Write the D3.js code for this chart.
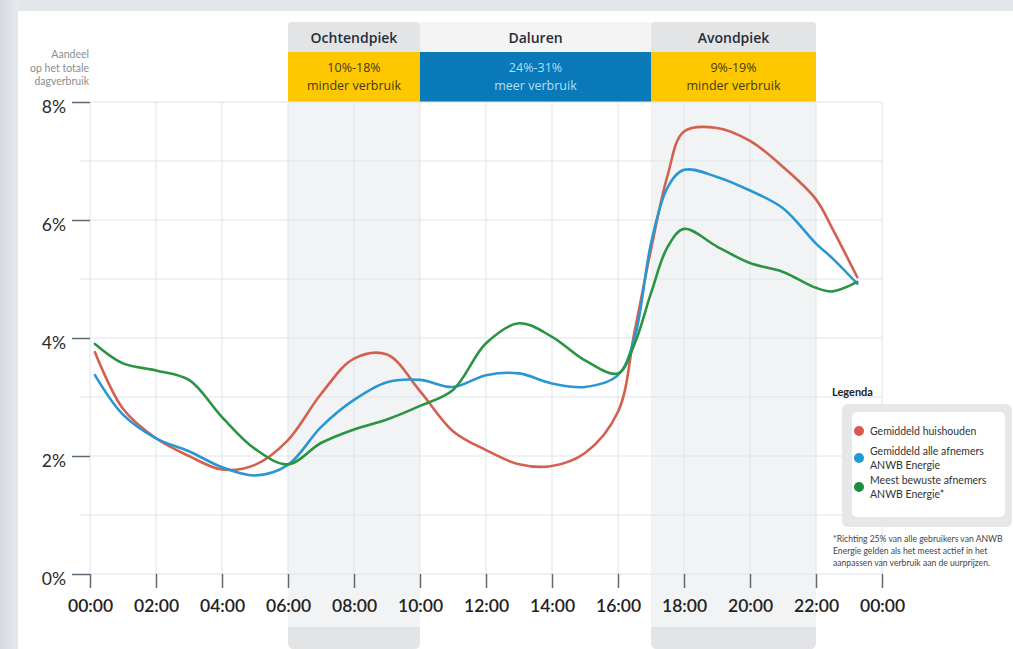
<!DOCTYPE html>
<html>
<head>
<meta charset="utf-8">
<script src="https://cdn.jsdelivr.net/npm/d3@7"></script>
<style>
  html, body { margin: 0; padding: 0; background: #e3e6ea; }
  svg { display: block; }
</style>
</head>
<body>
<svg id="chart" width="1013" height="649"></svg>
<script>
// Share of total daily consumption (%) per time of day
const hours      = [0.15, 1, 2, 3, 4, 5, 6, 7, 8, 9, 10, 11, 12, 13, 14, 15, 16, 16.5, 17, 17.5, 18, 19, 20, 21, 22, 22.5, 23.25];
const household  = [3.76, 2.8, 2.3, 2.0, 1.77, 1.85, 2.27, 3.05, 3.65, 3.72, 3.1, 2.42, 2.1, 1.86, 1.83, 2.05, 2.75, 4.1, 5.5, 6.75, 7.5, 7.56, 7.34, 6.9, 6.35, 5.85, 5.03];
const allCustomers = [3.37, 2.7, 2.3, 2.08, 1.81, 1.67, 1.85, 2.49, 2.95, 3.25, 3.29, 3.17, 3.37, 3.4, 3.23, 3.17, 3.37, 4.0, 5.6, 6.55, 6.85, 6.73, 6.5, 6.2, 5.6, 5.35, 4.92];
const mostAware  = [3.9, 3.57, 3.45, 3.29, 2.66, 2.12, 1.86, 2.22, 2.45, 2.62, 2.85, 3.12, 3.91, 4.25, 4.02, 3.62, 3.4, 3.9, 4.76, 5.54, 5.85, 5.55, 5.27, 5.12, 4.85, 4.79, 4.95];

const seriesNames  = ["Gemiddeld huishouden", "Gemiddeld alle afnemers\nANWB Energie", "Meest bewuste afnemers\nANWB Energie*"];
const seriesColors = ["#d4604f", "#2a97d2", "#2a9442"];
const legendDots   = ["#d9574c", "#1f9bd8", "#1d8e3b"];

// Tariff periods
const periodNames  = ["Ochtendpiek", "Daluren", "Avondpiek"];
const periodStart  = [6, 10, 17];
const periodEnd    = [10, 17, 22];
const periodRange  = ["10%-18%", "24%-31%", "9%-19%"];
const periodNote   = ["minder verbruik", "meer verbruik", "minder verbruik"];
const periodIsPeak = [true, false, true];

const xTicks = [0, 2, 4, 6, 8, 10, 12, 14, 16, 18, 20, 22, 24];
const xTickLabels = ["00:00","02:00","04:00","06:00","08:00","10:00","12:00","14:00","16:00","18:00","20:00","22:00","00:00"];
const yTicks = [0, 2, 4, 6, 8];
const yGrid  = [1, 2, 3, 4, 5, 6, 7, 8];

const footnote = ["*Richting 25% van alle gebruikers van ANWB", "Energie gelden als het meest actief in het", "aanpassen van verbruik aan de uurprijzen."];

const svg = d3.select("#chart");
const x = d3.scaleLinear().domain([0, 24]).range([90, 882]);
const y = d3.scaleLinear().domain([0, 8]).range([574, 102]);

// card
svg.append("rect").attr("x", 0).attr("y", 0).attr("width", 1013).attr("height", 649).attr("fill", "#e3e6ea");
const lg = svg.append("defs").append("linearGradient").attr("id", "edge").attr("x1", 0).attr("x2", 1);
lg.append("stop").attr("offset", 0).attr("stop-color", "#d6dae0");
lg.append("stop").attr("offset", 1).attr("stop-color", "#e7e9ec");
svg.append("rect").attr("x", 0).attr("y", 0).attr("width", 18).attr("height", 649).attr("fill", "url(#edge)");
svg.append("rect").attr("x", 18).attr("y", 11).attr("width", 995).attr("height", 638).attr("fill", "#ffffff");

// rounded-top / rounded-bottom path helper
function roundRect(x0, y0, w, h, rt, rb) {
  return `M${x0},${y0 + rt} Q${x0},${y0} ${x0 + rt},${y0} L${x0 + w - rt},${y0} Q${x0 + w},${y0} ${x0 + w},${y0 + rt}` +
         ` L${x0 + w},${y0 + h - rb} Q${x0 + w},${y0 + h} ${x0 + w - rb},${y0 + h} L${x0 + rb},${y0 + h} Q${x0},${y0 + h} ${x0},${y0 + h - rb} Z`;
}

const bands = svg.append("g");
periodNames.forEach((name, i) => {
  const x0 = x(periodStart[i]), w = x(periodEnd[i]) - x(periodStart[i]);
  if (periodIsPeak[i]) {
    bands.append("path").attr("d", roundRect(x0, 22, w, 627 - 22, 4, 0)).attr("fill", "#f2f3f4");
    bands.append("path").attr("d", roundRect(x0, 627, w, 22, 0, 6)).attr("fill", "#e3e4e6");
    bands.append("path").attr("d", roundRect(x0, 22, w, 30, 4, 0)).attr("fill", "#e3e4e6");
  } else {
    bands.append("rect").attr("x", x0).attr("y", 22).attr("width", w).attr("height", 30).attr("fill", "#f4f4f5");
  }
  bands.append("rect").attr("x", x0).attr("y", 52).attr("width", w).attr("height", 50)
    .attr("fill", periodIsPeak[i] ? "#fdc800" : "#0a79b9");
  const cx = x0 + w / 2;
  bands.append("text").attr("x", cx).attr("y", 43).attr("text-anchor", "middle")
    .attr("font-family", "'Open Sans', sans-serif").attr("font-weight", 600).attr("font-size", 14)
    .attr("fill", "#252e3a").text(name);
  const tc = periodIsPeak[i] ? "#453b1c" : "#b3def4";
  bands.append("text").attr("x", cx).attr("y", 72).attr("text-anchor", "middle")
    .attr("font-family", "'Open Sans', sans-serif").attr("font-size", 12.5).attr("fill", tc).text(periodRange[i]);
  bands.append("text").attr("x", cx).attr("y", 90).attr("text-anchor", "middle")
    .attr("font-family", "'Open Sans', sans-serif").attr("font-size", 12.5).attr("fill", tc).text(periodNote[i]);
});

// grid
const grid = svg.append("g").attr("stroke", "#dde4ea").attr("stroke-width", 1);
yGrid.forEach(v => {
  grid.append("line").attr("x1", yTicks.includes(v) ? 90 : 80).attr("x2", 882)
    .attr("y1", y(v)).attr("y2", y(v));
});
xTicks.forEach(h => {
  grid.append("line").attr("x1", x(h)).attr("x2", x(h)).attr("y1", y(8)).attr("y2", y(0));
});
grid.append("line").attr("x1", 90).attr("x2", 882).attr("y1", y(0)).attr("y2", y(0));

// axes
const yAxis = d3.axisLeft(y).tickValues(yTicks).tickFormat(d => d + "%").tickSize(18).tickPadding(6);
const gy = svg.append("g").attr("transform", "translate(90,0)").call(yAxis);
gy.select(".domain").remove();
gy.selectAll(".tick line").attr("stroke", "#5f6873").attr("stroke-width", 1.5);
gy.selectAll(".tick text").attr("font-family", "Lato, sans-serif").attr("font-size", 17.5)
  .attr("fill", "#2a2a2a").attr("dy", "0.75em").attr("transform", "translate(0,-3)");

const xAxis = d3.axisBottom(x).tickValues(xTicks).tickFormat((d, i) => xTickLabels[i]).tickSize(14).tickPadding(12);
const gx = svg.append("g").attr("transform", `translate(0,${y(0)})`).call(xAxis);
gx.select(".domain").remove();
gx.selectAll(".tick line").attr("stroke", "#5f6873").attr("stroke-width", 1.5);
gx.selectAll(".tick text").attr("font-family", "Lato, sans-serif").attr("font-size", 17.5)
  .attr("font-weight", 600).attr("fill", "#222");

// y-axis title
const yt = svg.append("text").attr("text-anchor", "end").attr("font-family", "Lato, sans-serif")
  .attr("font-size", 10.5).attr("fill", "#8a8d91");
["Aandeel", "op het totale", "dagverbruik"].forEach((t, i) => {
  yt.append("tspan").attr("x", 89).attr("y", 58 + i * 13.5).text(t);
});

// lines
const line = d3.line().x((d, i) => x(hours[i])).y(d => y(d)).curve(d3.curveCatmullRom.alpha(0.5));
[household, allCustomers, mostAware].forEach((vals, k) => {
  svg.append("path").datum(vals).attr("d", line).attr("fill", "none")
    .attr("stroke", seriesColors[k]).attr("stroke-width", 2.6).attr("stroke-linejoin", "round")
    .attr("stroke-linecap", "round");
});

// legend
svg.append("text").attr("x", 832).attr("y", 396).attr("font-family", "Lato, sans-serif")
  .attr("font-weight", 700).attr("font-size", 11).attr("fill", "#222").text("Legenda");
svg.append("rect").attr("x", 842).attr("y", 404).attr("width", 170).attr("height", 123).attr("rx", 6).attr("fill", "#e6e7e8");
svg.append("rect").attr("x", 852).attr("y", 412).attr("width", 153).attr("height", 105).attr("rx", 5).attr("fill", "#ffffff");
const legendY = [431, 458, 487];
seriesNames.forEach((name, k) => {
  svg.append("circle").attr("cx", 859).attr("cy", legendY[k]).attr("r", 5).attr("fill", legendDots[k]);
  const lines = name.split("\n");
  const t = svg.append("text").attr("font-family", "Lato, sans-serif").attr("font-size", 10.5).attr("fill", "#333");
  lines.forEach((s, j) => {
    const off = (j - (lines.length - 1) / 2) * 14.5;
    t.append("tspan").attr("x", 870).attr("y", legendY[k] + off + 3.8).text(s);
  });
});
const fn = svg.append("text").attr("font-family", "Lato, sans-serif").attr("font-size", 8.6).attr("fill", "#444");
footnote.forEach((s, j) => fn.append("tspan").attr("x", 833).attr("y", 542 + j * 11.8).text(s));
</script>
</body>
</html>
